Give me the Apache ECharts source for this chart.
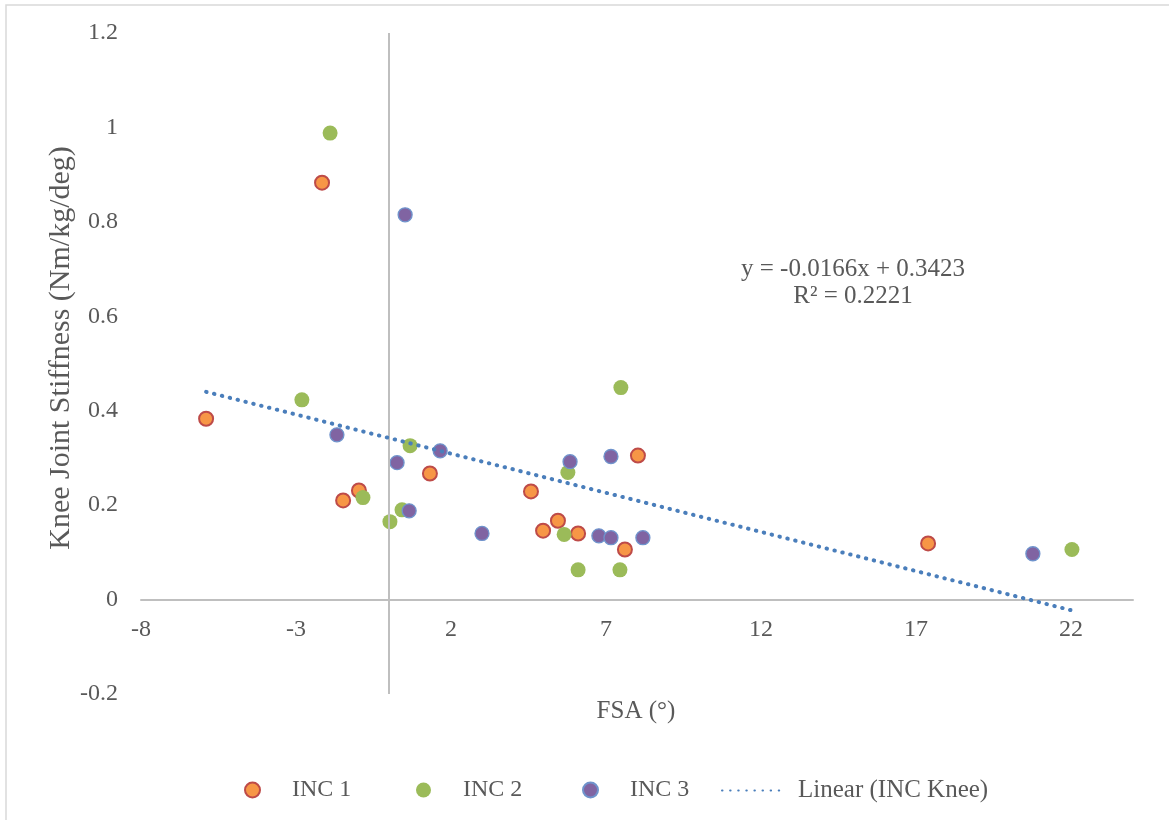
<!DOCTYPE html>
<html>
<head>
<meta charset="utf-8">
<script src="https://cdn.jsdelivr.net/npm/echarts@6/dist/echarts.min.js"></script>
<style>
html,body{margin:0;padding:0;background:#fff;}
#chart{width:1169px;height:820px;}
</style>
</head>
<body>
<div id="chart"></div>
<script>
// ---- data ----
const inc1X = [-5.90, -2.16, -1.48, -0.97, 1.32, 4.58, 4.97, 5.45, 6.10, 7.61, 8.03, 17.39];
const inc1Y = [0.383, 0.883, 0.210, 0.231, 0.267, 0.229, 0.146, 0.167, 0.140, 0.106, 0.305, 0.119];
const inc2X = [-1.90, -2.81, -0.84, 0.03, 0.42, 0.68, 5.65, 5.77, 6.10, 7.48, 7.45, 22.03];
const inc2Y = [0.988, 0.423, 0.216, 0.165, 0.190, 0.326, 0.138, 0.269, 0.063, 0.449, 0.063, 0.106];
const inc3X = [0.52, -1.68, 0.26, 0.65, 1.65, 3.00, 5.84, 6.77, 7.16, 7.16, 8.19, 20.77];
const inc3Y = [0.815, 0.349, 0.290, 0.188, 0.315, 0.140, 0.292, 0.135, 0.303, 0.131, 0.131, 0.097];
const trendX = [-5.90, 22.03];
const trendY = [0.440, -0.023];
const seriesNames = ['INC 1', 'INC 2', 'INC 3', 'Linear (INC Knee)'];
const xTitle = 'FSA (°)';
const yTitle = 'Knee Joint Stiffness (Nm/kg/deg)';
const eqLine1 = 'y = -0.0166x + 0.3423';
const eqLine2 = 'R² = 0.2221';

const pairs = (xs, ys) => xs.map((x, i) => [x, ys[i]]);
const FONT = '"Liberation Serif", "DejaVu Serif", serif';
const TXT = '#595959';

const legendText = {color: TXT, fontFamily: FONT, fontSize: 24};
function markerLegend(name, left) {
  return {
    left: left, top: 773, itemWidth: 15, itemHeight: 15, data: [name],
    textStyle: Object.assign({padding: [0, 0, 0, 27]}, legendText)
  };
}

const chart = echarts.init(document.getElementById('chart'), null, {renderer: 'canvas'});
chart.setOption({
  animation: false,
  backgroundColor: '#ffffff',
  grid: {left: 141, right: 36, top: 33, bottom: 126},
  xAxis: {
    type: 'value', min: -8, max: 24, interval: 5,
    axisLine: {onZero: false, lineStyle: {color: '#BFBFBF', width: 2}},
    axisTick: {show: false},
    splitLine: {show: false},
    axisLabel: {
      color: TXT, fontFamily: FONT, fontSize: 24, margin: 18,
      formatter: v => (v > 22.5 ? '' : String(v))
    }
  },
  yAxis: {
    type: 'value', min: -0.2, max: 1.2, interval: 0.2,
    axisLine: {show: false},
    axisTick: {show: false},
    splitLine: {show: false},
    axisLabel: {
      color: TXT, fontFamily: FONT, fontSize: 24, margin: 23,
      formatter: v => String(+v.toFixed(1))
    }
  },
  legend: [
    markerLegend(seriesNames[0], 239),
    markerLegend(seriesNames[1], 411),
    markerLegend(seriesNames[2], 577),
    {
      left: 716, top: 773, itemWidth: 64, itemHeight: 15,
      data: [{name: seriesNames[3], itemStyle: {opacity: 0}}],
      textStyle: Object.assign({padding: [0, 0, 0, 7]}, legendText, {fontSize: 25})
    }
  ],
  graphic: [
    {type: 'rect', silent: true, z: -10,
     shape: {x: 6, y: 5, width: 1300, height: 1000},
     style: {fill: 'none', stroke: '#D9D9D9', lineWidth: 1.5}},
    {type: 'text', x: 61, y: 348, rotation: Math.PI / 2, silent: true,
     style: {text: yTitle, fill: TXT, font: '30px ' + FONT, textAlign: 'center', textVerticalAlign: 'middle'}},
    {type: 'text', x: 636, y: 711, silent: true,
     style: {text: xTitle, fill: TXT, font: '25px ' + FONT, textAlign: 'center', textVerticalAlign: 'middle'}},
    {type: 'text', x: 853, y: 269, silent: true,
     style: {text: eqLine1, fill: TXT, font: '25px ' + FONT, textAlign: 'center', textVerticalAlign: 'middle'}},
    {type: 'text', x: 853, y: 296, silent: true,
     style: {text: eqLine2, fill: TXT, font: '25px ' + FONT, textAlign: 'center', textVerticalAlign: 'middle'}}
  ],
  series: [
    {
      name: seriesNames[0], type: 'scatter', symbol: 'circle', symbolSize: 14,
      data: pairs(inc1X, inc1Y),
      itemStyle: {color: '#F79646', borderColor: '#BE4B48', borderWidth: 2, opacity: 1},
      markLine: {
        silent: true, symbol: 'none', label: {show: false},
        lineStyle: {color: '#BFBFBF', width: 2, type: 'solid'},
        data: [{xAxis: 0}]
      }
    },
    {
      name: seriesNames[1], type: 'scatter', symbol: 'circle', symbolSize: 15,
      data: pairs(inc2X, inc2Y),
      itemStyle: {color: '#9BBB59', borderColor: '#9BBB59', borderWidth: 0, opacity: 1}
    },
    {
      name: seriesNames[2], type: 'scatter', symbol: 'circle', symbolSize: 14,
      data: pairs(inc3X, inc3Y),
      itemStyle: {color: '#8064A2', borderColor: '#6F93CC', borderWidth: 1.3, opacity: 1}
    },
    {
      name: seriesNames[3], type: 'line', symbol: 'none', z: 5,
      data: pairs(trendX, trendY),
      itemStyle: {color: '#4F81BD'},
      lineStyle: {color: '#4A7EBB', width: 4, type: [0.5, 7.6], cap: 'round'}
    }
  ]
});

// place the horizontal axis (and its labels) at y = 0, where the reference draws it
const yZero = chart.convertToPixel({gridIndex: 0}, [0, 0])[1];
const yBottom = chart.convertToPixel({gridIndex: 0}, [0, -0.2])[1];
chart.setOption({xAxis: {offset: -(yBottom - yZero)}});
</script>
</body>
</html>
